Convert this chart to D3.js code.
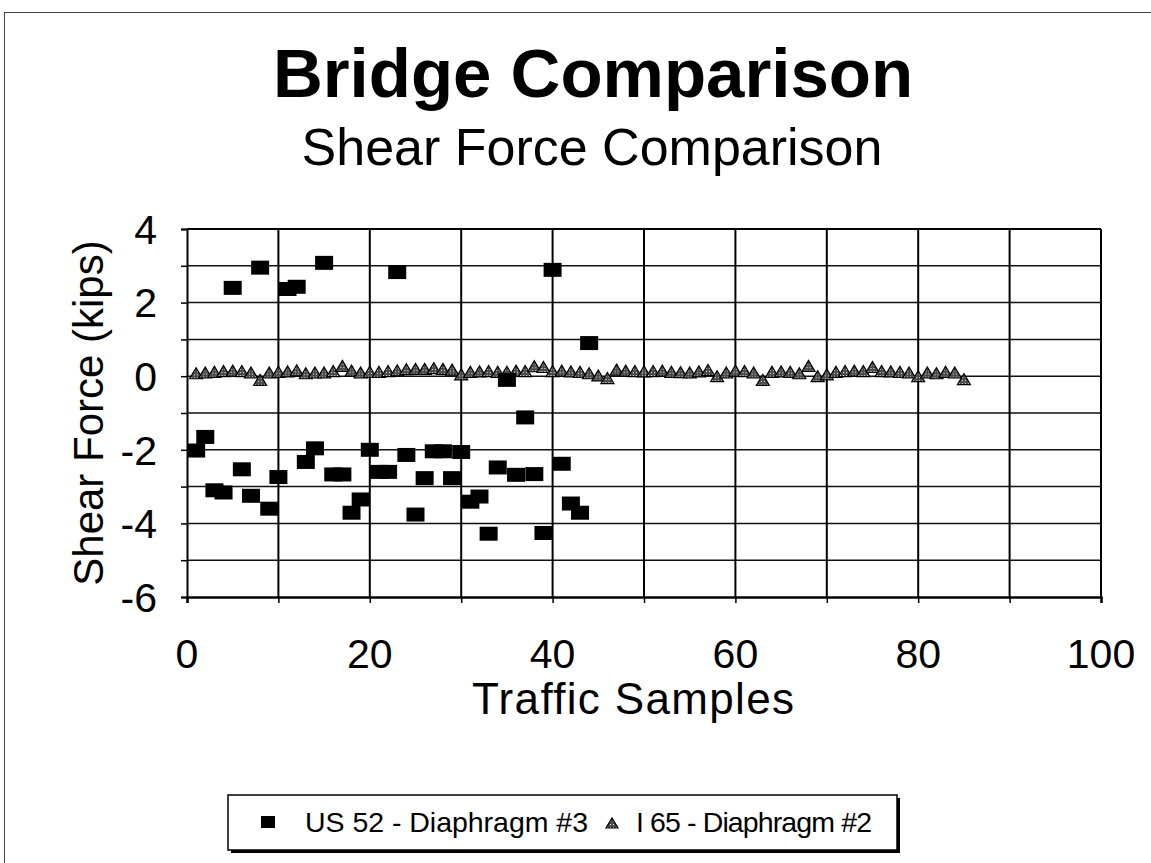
<!DOCTYPE html>
<html>
<head>
<meta charset="utf-8">
<script src="https://cdn.jsdelivr.net/npm/d3@7"></script>
<style>
  body { margin: 0; background: #fff; }
  svg { display: block; font-family: "Liberation Sans", Arial, Helvetica, sans-serif; }
</style>
</head>
<body>
<svg width="1151" height="863"></svg>
<script>
// US 52 - Diaphragm #3 (one sample per x)
var us52X = d3.range(1, 45);
var us52Y = [-2.02, -1.65, -3.1, -3.16, 2.4, -2.53, -3.25, 2.95, -3.6, -2.74,
             2.37, 2.43, -2.33, -1.96, 3.08, -2.67, -2.67, -3.71, -3.35, -2.0,
             -2.6, -2.6, 2.83, -2.14, -3.76, -2.77, -2.04, -2.04, -2.77, -2.06,
             -3.41, -3.27, -4.28, -2.48, -0.1, -2.68, -1.12, -2.66, -4.26, 2.89,
             -2.38, -3.46, -3.71, 0.9];

// I 65 - Diaphragm #2
var i65X = d3.range(1, 86);
var i65Y = [0.08, 0.1, 0.12, 0.14, 0.15, 0.14, 0.1, -0.1, 0.1, 0.12,
            0.13, 0.16, 0.08, 0.1, 0.1, 0.14, 0.28, 0.15, 0.1, 0.12,
            0.12, 0.14, 0.16, 0.19, 0.2, 0.2, 0.22, 0.2, 0.18, 0.05,
            0.12, 0.13, 0.14, 0.12, 0.12, 0.15, 0.14, 0.27, 0.25, 0.14,
            0.15, 0.13, 0.12, 0.08, 0.02, -0.05, 0.18, 0.15, 0.14, 0.13,
            0.14, 0.15, 0.12, 0.11, 0.1, 0.13, 0.17, 0.0, 0.1, 0.15,
            0.14, 0.1, -0.1, 0.12, 0.13, 0.12, 0.08, 0.28, 0.0, 0.05,
            0.12, 0.14, 0.15, 0.14, 0.25, 0.14, 0.13, 0.12, 0.1, 0.0,
            0.1, 0.08, 0.12, 0.1, -0.08];

var xTicks = [0, 20, 40, 60, 80, 100];
var yTicks = [4, 2, 0, -2, -4, -6];
var seriesNames = ["US 52 - Diaphragm #3", "I 65 - Diaphragm #2"];

var svg = d3.select("svg");

// pattern for the dithered grey triangles
var defs = svg.append("defs");
var pat = defs.append("pattern")
    .attr("id", "dots")
    .attr("width", 3).attr("height", 3)
    .attr("patternUnits", "userSpaceOnUse");
pat.append("rect").attr("width", 3).attr("height", 3).attr("fill", "#4a4a4a");
pat.append("rect").attr("x", 1).attr("y", 1).attr("width", 1).attr("height", 1).attr("fill", "#eee");

// page frame (top and left edges visible)
svg.append("rect")
    .attr("x", 4.5).attr("y", 12.5)
    .attr("width", 1300).attr("height", 1000)
    .attr("fill", "none")
    .attr("stroke", "#444")
    .attr("stroke-width", 1);

// titles
svg.append("text")
    .attr("x", 593).attr("y", 97)
    .attr("text-anchor", "middle")
    .attr("font-weight", "bold")
    .attr("font-size", "69px")
    .text("Bridge Comparison");

svg.append("text")
    .attr("x", 592).attr("y", 165)
    .attr("text-anchor", "middle")
    .attr("font-size", "52px")
    .text("Shear Force Comparison");

var xScale = d3.scaleLinear().domain([0, 100]).range([187, 1101]);
var yScale = d3.scaleLinear().domain([-6, 4]).range([597, 229]);

var g = svg.append("g");

// horizontal gridlines every 1 kip
g.selectAll(".hgrid")
    .data(d3.range(-5, 5))
    .enter().append("line")
    .attr("x1", xScale(0)).attr("x2", xScale(100))
    .attr("y1", function(d) { return yScale(d); })
    .attr("y2", function(d) { return yScale(d); })
    .attr("stroke", "#111")
    .attr("stroke-width", 1.5);

// vertical gridlines every 10 samples
g.selectAll(".vgrid")
    .data(d3.range(10, 101, 10))
    .enter().append("line")
    .attr("x1", function(d) { return xScale(d); })
    .attr("x2", function(d) { return xScale(d); })
    .attr("y1", yScale(4)).attr("y2", yScale(-6))
    .attr("stroke", "#000")
    .attr("stroke-width", 2);

// y axis
var yAxis = g.append("g")
    .attr("transform", "translate(" + xScale(0) + ",0)")
    .call(d3.axisLeft(yScale).tickValues(d3.range(-6, 5)).tickSize(6).tickFormat(""));
yAxis.select(".domain").attr("stroke", "#000").attr("stroke-width", 2);
yAxis.selectAll(".tick line").attr("stroke", "#000").attr("stroke-width", 1.5);

g.selectAll(".ylab")
    .data(yTicks)
    .enter().append("text")
    .attr("x", 157)
    .attr("y", function(d) { return yScale(d); })
    .attr("dy", "0.36em")
    .attr("text-anchor", "end")
    .attr("font-size", "41px")
    .text(function(d) { return d; });

// x axis
var xAxis = g.append("g")
    .attr("transform", "translate(0," + yScale(-6) + ")")
    .call(d3.axisBottom(xScale).tickValues(d3.range(0, 101, 10)).tickSize(6).tickFormat(""));
xAxis.select(".domain").attr("stroke", "#000").attr("stroke-width", 2.5);
xAxis.selectAll(".tick line").attr("stroke", "#000").attr("stroke-width", 1.5);

g.selectAll(".xlab")
    .data(xTicks)
    .enter().append("text")
    .attr("x", function(d) { return xScale(d); })
    .attr("y", 668)
    .attr("text-anchor", "middle")
    .attr("font-size", "41px")
    .text(function(d) { return d; });

// axis titles
svg.append("text")
    .attr("x", 633).attr("y", 714)
    .attr("text-anchor", "middle")
    .attr("font-size", "44px")
    .attr("textLength", 322)
    .text("Traffic Samples");

svg.append("text")
    .attr("transform", "translate(103," + ((yScale(4) + yScale(-6)) / 2) + ") rotate(-90)")
    .attr("text-anchor", "middle")
    .attr("font-size", "42px")
    .text("Shear Force (kips)");

// plot top border
g.append("line")
    .attr("x1", xScale(0)).attr("x2", xScale(100))
    .attr("y1", yScale(4)).attr("y2", yScale(4))
    .attr("stroke", "#000").attr("stroke-width", 2);

// triangle path centred on 0,0
function triPath(w, h) {
    return "M0," + (-h / 2) + "L" + (w / 2) + "," + (h / 2) + "L" + (-w / 2) + "," + (h / 2) + "Z";
}

var i65 = i65X.map(function(x, i) { return { x: x, y: i65Y[i] }; });
var us52 = us52X.map(function(x, i) { return { x: x, y: us52Y[i] }; });

g.selectAll(".tri")
    .data(i65)
    .enter().append("path")
    .attr("d", triPath(13, 11))
    .attr("transform", function(d) { return "translate(" + xScale(d.x) + "," + yScale(d.y) + ")"; })
    .attr("fill", "url(#dots)")
    .attr("stroke", "#000")
    .attr("stroke-width", 1.2);

g.selectAll(".sq")
    .data(us52)
    .enter().append("rect")
    .attr("x", function(d) { return xScale(d.x) - 9; })
    .attr("y", function(d) { return yScale(d.y) - 7; })
    .attr("width", 18).attr("height", 14)
    .attr("fill", "#000");

// legend
var leg = svg.append("g");
leg.append("rect")
    .attr("x", 231).attr("y", 798)
    .attr("width", 669).attr("height", 55)
    .attr("fill", "#000");
leg.append("rect")
    .attr("x", 228).attr("y", 795)
    .attr("width", 669).attr("height", 55)
    .attr("fill", "#fff")
    .attr("stroke", "#000")
    .attr("stroke-width", 1.5);

leg.append("rect")
    .attr("x", 261).attr("y", 816)
    .attr("width", 14).attr("height", 12)
    .attr("fill", "#000");
leg.append("text")
    .attr("x", 305).attr("y", 832)
    .attr("font-size", "28.5px")
    .attr("textLength", 283)
    .text(seriesNames[0]);

leg.append("path")
    .attr("d", triPath(12, 10))
    .attr("transform", "translate(612,823)")
    .attr("fill", "url(#dots)")
    .attr("stroke", "#000")
    .attr("stroke-width", 1.2);
leg.append("text")
    .attr("x", 636).attr("y", 832)
    .attr("font-size", "28.5px")
    .attr("textLength", 236)
    .text(seriesNames[1]);
</script>
</body>
</html>
